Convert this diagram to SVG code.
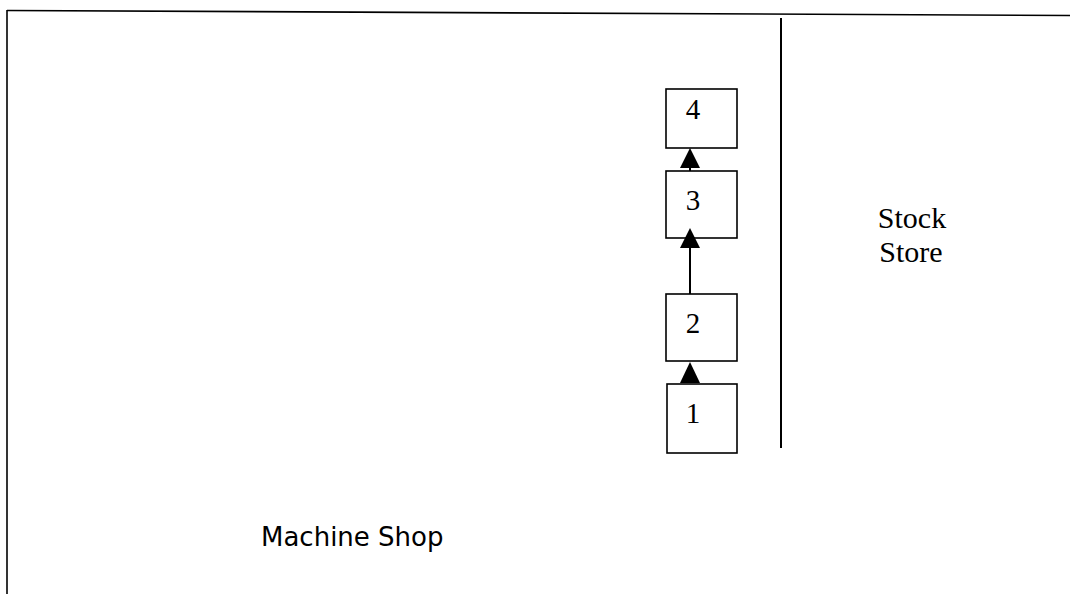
<svg xmlns="http://www.w3.org/2000/svg" width="1070" height="594" viewBox="0 0 1070 594">
<style>
.frame{stroke:#000;stroke-width:1.6;fill:none}
.box{stroke:#000;stroke-width:1.6;fill:#fff}
.num{font-family:"Liberation Serif",serif;font-size:29px;text-anchor:middle;fill:#000}
.serif{font-family:"Liberation Serif",serif;font-size:30px;text-anchor:middle;fill:#000}
.sans{font-family:"DejaVu Sans",sans-serif;font-size:26px;fill:#000}
.conn{stroke:#000;stroke-width:2;fill:none}
.head{fill:#000;stroke:none}
</style>
<rect width="1070" height="594" fill="#fff"/>
<g id="frame">
<line class="frame" x1="7" y1="10.5" x2="1070" y2="15.5"/>
<line class="frame" x1="7" y1="10" x2="7" y2="594"/>
<line x1="781" y1="18" x2="781" y2="448" stroke="#000" stroke-width="2"/>
</g>
<g id="connectors">
<polygon class="head" points="690,148 680,168 700,168"/>
<line class="conn" x1="690" y1="168" x2="690" y2="171"/>
<line class="conn" x1="690" y1="246" x2="690" y2="294"/>
<polygon class="head" points="690,228 680,248 700,248"/>
<polygon class="head" points="690,362 680,383 700,383"/>
</g>
<g id="node4"><rect class="box" x="666" y="89" width="71" height="59"/><text class="num" x="693" y="119">4</text></g>
<g id="node3"><rect class="box" x="666" y="171" width="71" height="67" style="fill:none"/><text class="num" x="693" y="210">3</text></g>
<g id="node2"><rect class="box" x="666" y="294" width="71" height="67"/><text class="num" x="693" y="333">2</text></g>
<g id="node1"><rect class="box" x="667" y="384" width="70" height="69"/><text class="num" x="693" y="423">1</text></g>
<g id="stock-store"><text class="serif" x="912" y="228">Stock</text><text class="serif" x="911" y="262">Store</text></g>
<g id="machine-shop"><text class="sans" x="261" y="546">Machine Shop</text></g>
</svg>
